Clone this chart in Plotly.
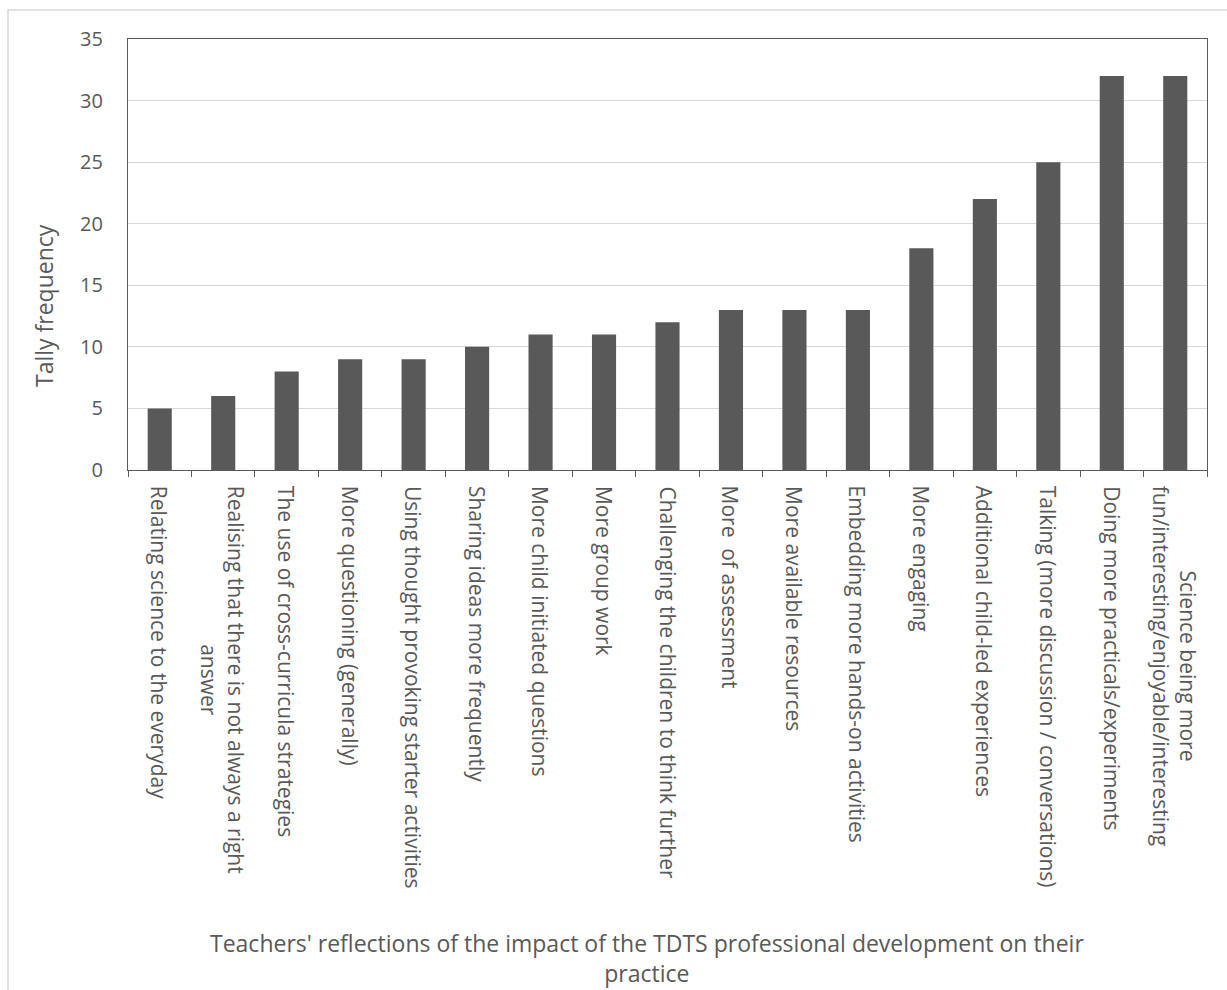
import plotly.graph_objects as go

# Teachers' reflections (category labels, wrapped as on the axis) and tally counts
categories = [
    "Relating science to the everyday",
    "Realising that there is not always a right<br>answer",
    "The use of cross-curricula strategies",
    "More questioning (generally)",
    "Using thought provoking starter activities",
    "Sharing ideas more frequently",
    "More child initiated questions",
    "More group work",
    "Challenging the children to think further",
    "More\u00a0\u00a0of assessment",
    "More available resources",
    "Embedding more hands-on activities",
    "More engaging",
    "Additional child-led experiences",
    "Talking (more discussion / conversations)",
    "Doing more practicals/experiments",
    "Science being more<br>fun/interesting/enjoyable/interesting",
]
tally = [5, 6, 8, 9, 9, 10, 11, 11, 12, 13, 13, 13, 18, 22, 25, 32, 32]

y_ticks = [0, 5, 10, 15, 20, 25, 30, 35]
y_title = "Tally frequency"
x_title = ("Teachers' reflections of the impact of the TDTS professional development on their"
           "<br>practice")

W, H = 1227, 990
ML, MR, MT, MB = 128, 20, 39, 520
PW, PH = W - ML - MR, H - MT - MB

TEXT = "#595959"
FONT = "Open Sans"


def px_x(px):
    return (px - ML) / PW


def px_y(py):
    return (H - MB - py) / PH


fig = go.Figure(
    go.Bar(
        x=categories,
        y=tally,
        marker=dict(color="#595959", line=dict(width=0)),
        hoverinfo="x+y",
    )
)

annotations = []
# rotated category labels, centred under each bar
for c in categories:
    annotations.append(dict(
        x=c, xref="x", y=0, yref="paper",
        text=c, textangle=90, showarrow=False,
        xanchor="center", yanchor="top", align="center",
        yshift=-14,
        font=dict(family=FONT, size=21, color=TEXT),
    ))
# axis titles
annotations.append(dict(
    x=px_x(44), xref="paper", y=px_y(306), yref="paper",
    text=y_title, textangle=-90, showarrow=False,
    xanchor="center", yanchor="middle",
    font=dict(family=FONT, size=23, color=TEXT),
))
annotations.append(dict(
    x=px_x(647), xref="paper", y=px_y(958), yref="paper",
    text=x_title, showarrow=False, align="center",
    xanchor="center", yanchor="middle",
    font=dict(family=FONT, size=23, color=TEXT),
))

fig.update_layout(
    width=W, height=H,
    margin=dict(l=ML, r=MR, t=MT, b=MB, pad=0),
    paper_bgcolor="white", plot_bgcolor="white",
    bargap=0.62,
    showlegend=False,
    font=dict(family=FONT, color=TEXT),
    annotations=annotations,
    shapes=[dict(
        type="rect", xref="paper", yref="paper",
        x0=px_x(8), x1=px_x(1245), y0=px_y(1010), y1=px_y(10),
        line=dict(color="#d9d9d9", width=1.5), fillcolor="rgba(0,0,0,0)",
        layer="below",
    )],
)

fig.update_xaxes(
    type="category",
    showticklabels=False,
    ticks="outside", ticklen=6, tickwidth=1, tickcolor="#595959",
    tickson="boundaries",
    showline=True, linecolor="#595959", linewidth=1.2, mirror=True,
    showgrid=False, zeroline=False,
)
fig.update_yaxes(
    range=[0, 35], tickvals=y_ticks,
    ticks="", ticklabelstandoff=20,
    tickfont=dict(family=FONT, size=20, color=TEXT),
    showline=True, linecolor="#595959", linewidth=1.2, mirror=True,
    showgrid=True, gridcolor="#d9d9d9", gridwidth=1.3,
    zeroline=False,
)

fig.write_html("out.html")
